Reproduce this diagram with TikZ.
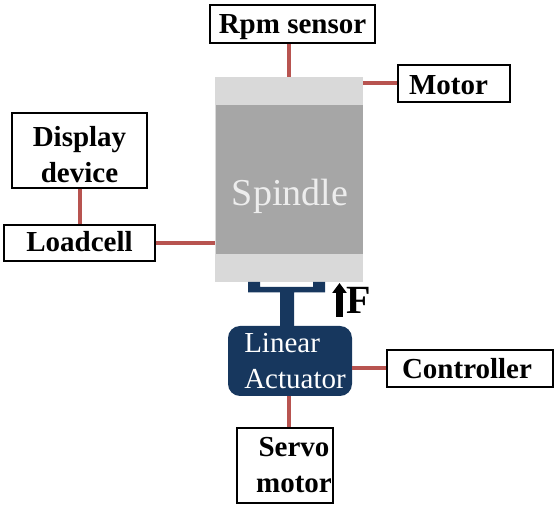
\documentclass[tikz,border=0pt]{standalone}
\usepackage{fontspec}
\setmainfont{Liberation Serif}
\usetikzlibrary{arrows.meta}
\definecolor{linkred}{HTML}{B85450}
\definecolor{actblue}{HTML}{17375E}
\definecolor{capgray}{HTML}{D9D9D9}
\definecolor{bodygray}{HTML}{A6A6A6}
\tikzset{
    label box/.style={draw=black, line width=1.3pt, fill=white, inner sep=0pt, align=center,
        font=\fontsize{29}{36}\selectfont\bfseries},
    link/.style={draw=linkred, line width=4pt},
}
\begin{document}
\begin{tikzpicture}[x=1pt, y=-1pt]
    \useasboundingbox (0,0) rectangle (558,510);

    % Husillo
    \node (spindle) at (289,179.5) [fill=capgray, minimum width=148pt, minimum height=205pt, inner sep=0pt] {};
    \node (spindlebody) at (289.5,179.5) [fill=bodygray, minimum width=147pt, minimum height=149pt, inner sep=0pt] {};
    \node (spindletext) at (290,196) [inner sep=0pt, text=white!93!black, font=\fontsize{38}{40}\selectfont] {Spindle};

    % Cajas de texto
    \node[label box, minimum width=165pt, minimum height=38pt, text height=26pt] (rpm) at (292.5,24) {Rpm sensor};
    \node[label box, minimum width=112pt, minimum height=37pt, text height=22pt] (motor) at (454,83.5) {\hspace*{-11pt}Motor};
    \node[label box, minimum width=135pt, minimum height=75pt, text height=64pt] (display) at (79.5,150.5) {Display\\device};
    \node[label box, minimum width=151pt, minimum height=36pt, text depth=4pt] (loadcell) at (79.5,243) {Loadcell};
    \node[label box, minimum width=166pt, minimum height=37pt] (controller) at (470,368.5) {\hspace*{-6pt}Controller};
    \node[label box, minimum width=96pt, minimum height=75pt] (servo) at (285,465.5) {\hspace*{18pt}Servo\\\hspace*{18pt}motor};

    % Actuador
    \node (actuator) at (290,361) [fill=actblue, rounded corners=12pt, minimum width=124pt, minimum height=70pt, inner sep=0pt] {};
    \node (actuatortext) at (295,361) [inner sep=0pt, text=white, align=left, font=\fontsize{29}{36}\selectfont] {Linear\\Actuator};

    % Soporte en T
    \fill[actblue] (248,282) -- (260,282) -- (260,287) -- (313,287) -- (313,282) -- (325,282) -- (325,292.5)
        -- (294,292.5) -- (294,326) -- (280,326) -- (280,292.5) -- (248,292.5) -- cycle;

    % Conexiones
    \draw[link] (spindle.north) -- (spindle.north |- rpm.south);
    \draw[link] (motor.west) -- (motor.west -| spindle.east);
    \draw[link] (loadcell.east) -- (loadcell.east -| spindle.west);
    \draw[link] (display.south) -- (display.south |- loadcell.north);
    \draw[link] (controller.west) -- (controller.west -| actuator.east);
    \draw[link] (actuator.south -| spindle.south) -- (spindle.south |- servo.north);

    % Fuerza
    \coordinate (forcebase) at (339.5,317);
    \coordinate (forcetip) at (339.5,283);
    \draw[line width=7.5pt, -{Triangle[length=10pt, width=14pt]}] (forcebase) -- (forcetip);
    \node (force) at (359,300) [inner sep=0pt, font=\fontsize{40}{40}\selectfont\bfseries] {F};
\end{tikzpicture}
\end{document}
